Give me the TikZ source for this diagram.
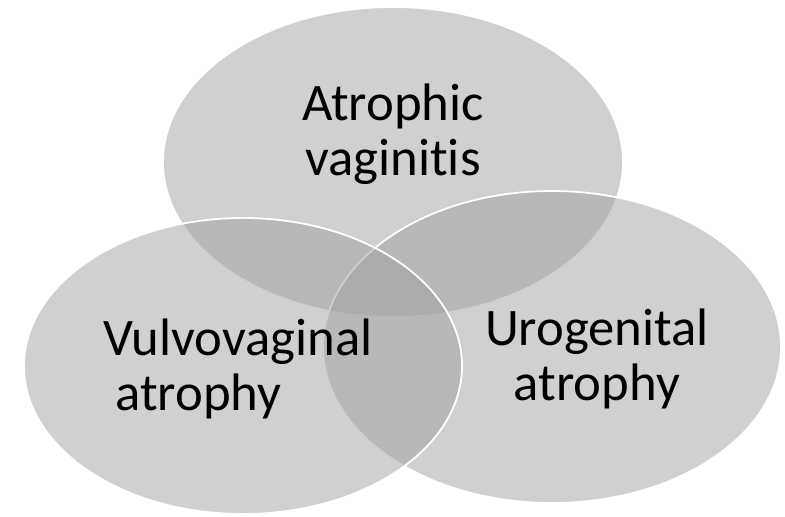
\documentclass[tikz,border=0pt]{standalone}
\usepackage{fontspec}
\setmainfont{Carlito}[Ligatures=NoCommon]
\usetikzlibrary{shapes.geometric}
\definecolor{vennfill}{RGB}{159,159,159}

\begin{document}
\begin{tikzpicture}[
x=0.03cm, y=-0.03cm,
every node/.style={font=\fontsize{45}{47}\selectfont},
venn/.style={ellipse, draw=white, line width=1.5pt, fill=vennfill, fill opacity=0.49, draw opacity=1, inner sep=0pt},
vtext/.style={align=center, text=black, inner sep=0pt}
]
\useasboundingbox (0,0) rectangle (785,517);

% Ellipses
\node[venn, minimum width=13.8cm, minimum height=9.3cm] (vag) at (393,162) {};
\node[venn, minimum width=13.74cm, minimum height=9.36cm] (uro) at (552,347) {};
\node[venn, minimum width=13.14cm, minimum height=8.88cm] (vva) at (243,366) {};

% Labels
\node[vtext] (vagtext) at (393,134) {Atrophic\\vaginitis};
\node[vtext, align=left] (vvatext) at (238,369) {Vulvovaginal\\\hspace*{0.23em}atrophy};
\node[vtext] (urotext) at (597,359) {Urogenital\\atrophy};

\end{tikzpicture}
\end{document}
